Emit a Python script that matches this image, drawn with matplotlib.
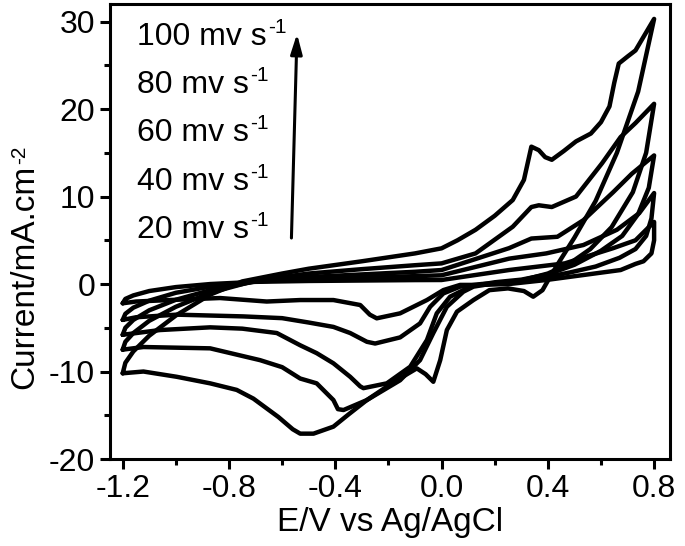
import matplotlib
matplotlib.use("Agg")
import matplotlib.pyplot as plt
from matplotlib.ticker import MultipleLocator

plt.rcParams['font.family'] = ['Liberation Sans', 'DejaVu Sans']

scan_rates = [20, 40, 60, 80, 100]

# ---- 20 mV/s ----
an20_x = [-1.2, -1.19, -1.16, -1.1, -1.0, -0.87, -0.7, -0.5, -0.3, -0.1, 0.0, 0.254, 0.464, 0.646, 0.73, 0.8]
an20_y = [-2.2, -1.7, -1.3, -0.8, -0.35, 0.0, 0.25, 0.35, 0.4, 0.45, 0.46, 1.6, 2.36, 4.1, 5.0, 7.1]
ca20_x = [0.8, 0.79, 0.76, 0.73, 0.674, 0.6, 0.534, 0.394, 0.254, 0.15, 0.07, 0.007, -0.055, -0.156, -0.244,
          -0.27, -0.306, -0.407, -0.532, -0.658, -0.834, -1.0, -1.15, -1.2]
ca20_y = [5.0, 3.5, 2.6, 2.3, 1.6, 1.3, 1.03, 0.46, 0.0, -0.1, -0.1, -0.69, -1.83, -3.35, -3.92,
          -3.5, -2.4, -1.83, -1.83, -2.0, -1.6, -1.8, -2.0, -2.2]

# ---- 40 mV/s ----
an40_x = [-1.2, -1.19, -1.16, -1.1, -1.0, -0.87, -0.7, -0.5, -0.3, -0.1, 0.0, 0.254, 0.394, 0.534, 0.66, 0.744, 0.8]
an40_y = [-4.1, -3.4, -2.7, -1.9, -1.0, -0.3, 0.3, 0.55, 0.75, 0.9, 1.0, 2.9, 3.5, 4.46, 6.2, 8.1, 10.4]
ca40_x = [0.79, 0.77, 0.73, 0.67, 0.58, 0.48, 0.38, 0.25, 0.15, 0.07, 0.007, -0.043, -0.081, -0.156, -0.25,
          -0.281, -0.344, -0.407, -0.5, -0.6, -0.746, -0.997, -1.15, -1.2]
ca40_y = [7.5, 5.5, 4.0, 3.0, 2.0, 1.3, 0.7, 0.2, 0.0, -0.3, -1.07, -2.6, -4.5, -6.1, -6.8,
          -6.6, -5.6, -4.9, -4.4, -3.9, -3.7, -3.5, -3.8, -4.1]

# ---- 60 mV/s ----
an60_x = [-1.2, -1.19, -1.16, -1.1, -1.0, -0.87, -0.7, -0.5, -0.3, -0.1, 0.0, 0.254, 0.338, 0.436, 0.534, 0.646, 0.716, 0.8]
an60_y = [-5.8, -5.0, -4.1, -3.0, -1.8, -0.7, 0.3, 0.8, 1.1, 1.4, 1.6, 4.1, 5.2, 5.4, 7.3, 10.5, 12.6, 14.7]
ca60_x = [0.78, 0.74, 0.68, 0.6, 0.5, 0.4, 0.3, 0.2, 0.12, 0.095, 0.032, -0.018, -0.055, -0.118, -0.206,
          -0.294, -0.306, -0.344, -0.407, -0.47, -0.532, -0.62, -0.75, -0.871, -1.06, -1.2]
ca60_y = [11.0, 8.0, 5.5, 3.8, 2.2, 1.1, 0.5, 0.2, -0.2, -0.5, -1.45, -3.35, -6.4, -9.45, -11.35,
          -11.9, -11.7, -10.6, -9.06, -7.9, -7.0, -5.6, -5.1, -4.95, -5.26, -5.8]

# ---- 80 mV/s ----
an80_x = [-1.2, -1.19, -1.16, -1.1, -1.0, -0.87, -0.7, -0.5, -0.3, -0.1, 0.0, 0.128, 0.268, 0.338, 0.366,
          0.415, 0.506, 0.604, 0.674, 0.73, 0.8]
an80_y = [-7.5, -6.6, -5.6, -4.2, -2.6, -1.0, 0.4, 1.2, 1.7, 2.15, 2.36, 3.5, 6.55, 8.8, 9.0,
          8.8, 10.0, 13.8, 16.8, 18.4, 20.6]
ca80_x = [0.77, 0.72, 0.64, 0.56, 0.48, 0.4, 0.3, 0.2, 0.12, 0.082, 0.02, -0.031, -0.081, -0.156, -0.281,
          -0.369, -0.39, -0.407, -0.47, -0.532, -0.6, -0.683, -0.871, -1.122, -1.2]
ca80_y = [15.0, 10.5, 6.5, 4.0, 2.3, 1.2, 0.4, 0.1, -0.3, -0.88, -2.6, -5.6, -8.7, -11.0, -13.26,
          -14.4, -14.3, -13.26, -11.35, -10.8, -9.5, -8.7, -7.35, -7.2, -7.5]

# ---- 100 mV/s ----
an100_x = [-1.2, -1.19, -1.16, -1.1, -1.0, -0.87, -0.75, -0.6, -0.5, -0.3, -0.1, 0.0, 0.06, 0.128, 0.2,
           0.268, 0.31, 0.338, 0.366, 0.39, 0.415, 0.46, 0.506, 0.562, 0.6, 0.632, 0.65, 0.667, 0.7, 0.73, 0.8]
an100_y = [-10.2, -9.0, -7.7, -5.9, -3.6, -1.2, 0.3, 1.2, 1.75, 2.6, 3.5, 4.08, 5.0, 6.2, 7.8,
           9.6, 11.9, 15.7, 15.3, 14.5, 14.2, 15.2, 16.3, 17.2, 18.5, 20.3, 23.0, 25.2, 26.0, 26.7, 30.3]
ca100_x = [0.74, 0.66, 0.58, 0.5, 0.44, 0.408, 0.38, 0.345, 0.31, 0.25, 0.18, 0.12, 0.058, 0.02, -0.005, -0.031,
           -0.06, -0.093, -0.18, -0.281, -0.35, -0.407, -0.482, -0.532, -0.56, -0.614, -0.708, -0.771,
           -0.871, -0.997, -1.122, -1.2]
ca100_y = [22.0, 15.0, 9.5, 5.3, 2.4, 0.8, -0.7, -1.45, -0.8, -0.5, -0.7, -1.83, -3.16, -5.26, -8.7, -11.17,
           -10.3, -9.64, -11.2, -13.26, -14.9, -16.3, -17.1, -17.1, -16.6, -15.2, -13.1, -12.1,
           -11.35, -10.6, -10.0, -10.2]

curves = [
    (an20_x + ca20_x, an20_y + ca20_y),
    (an40_x + ca40_x, an40_y + ca40_y),
    (an60_x + ca60_x, an60_y + ca60_y),
    (an80_x + ca80_x, an80_y + ca80_y),
    (an100_x + ca100_x, an100_y + ca100_y),
]

label_texts = ["100 mv s", "80 mv s", "60 mv s", "40 mv s", "20 mv s"]
label_sup = "-1"
label_y = [28.2, 22.7, 17.26, 11.66, 6.17]

x_ticks = [-1.2, -0.8, -0.4, 0.0, 0.4, 0.8]
x_ticklabels = ["-1.2", "-0.8", "-0.4", "0.0", "0.4", "0.8"]
y_ticks = [-20, -10, 0, 10, 20, 30]

fig = plt.figure(figsize=(6.85, 5.46), dpi=100)
ax = fig.add_axes([0.1613, 0.1593, 0.8161, 0.8333])

for cx, cy in curves:
    ax.plot(cx, cy, color='black', lw=3.2, solid_joinstyle='round', solid_capstyle='round')

texts = []
for t, yy in zip(label_texts, label_y):
    texts.append(ax.text(-1.146, yy, t, fontsize=23, va='center', ha='left'))

ax.annotate('', xy=(-0.544, 28.6), xytext=(-0.565, 5.26),
            arrowprops=dict(arrowstyle='-|>,head_length=1.2,head_width=0.35', color='black', lw=2.2,
                            shrinkA=0, shrinkB=0))

ax.set_xlim(-1.246, 0.858)
ax.set_ylim(-20, 32.0)
ax.set_xticks(x_ticks)
ax.set_xticklabels(x_ticklabels)
ax.set_yticks(y_ticks)
ax.set_yticklabels([str(v) for v in y_ticks])
ax.xaxis.set_minor_locator(MultipleLocator(0.2))
ax.yaxis.set_minor_locator(MultipleLocator(5))
ax.tick_params(which='major', direction='out', length=7, width=2.2, labelsize=23, pad=4,
               top=False, right=False)
ax.tick_params(which='minor', direction='out', length=4, width=2.2, top=False, right=False)
for s in ax.spines.values():
    s.set_linewidth(2.2)

ax.set_xlabel("E/V vs Ag/AgCl", fontsize=24, labelpad=2)
ax.set_ylabel("Current/mA.cm", fontsize=24)
ax.yaxis.set_label_coords(-0.125, 0.40)

fig.canvas.draw()
renderer = fig.canvas.get_renderer()
for t in texts:
    bb = t.get_window_extent(renderer)
    fig.text(bb.x1 + 1, bb.y1 + 4, label_sup, fontsize=15, ha='left', va='top',
             transform=None)

lb = ax.yaxis.label.get_window_extent(renderer)
fig.text(lb.x0 + 1, lb.y1 + 1, "-2", fontsize=15, rotation=90, rotation_mode='anchor',
         ha='left', va='top', transform=None)

fig.savefig("out.png", dpi=100)
